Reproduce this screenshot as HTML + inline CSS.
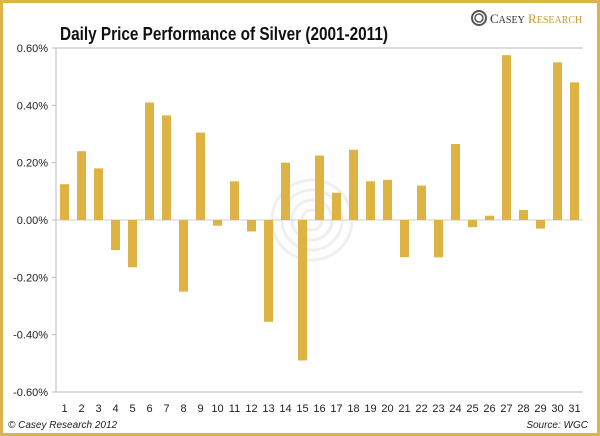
<!DOCTYPE html>
<html><head><meta charset="utf-8"><style>
body{margin:0;width:600px;height:436px;overflow:hidden;background:#fff;font-family:"Liberation Sans",sans-serif}
#frame{position:absolute;left:0;top:0;width:594px;height:430px;border:3px solid #D9B54A;background:#fff}
</style></head><body>
<div id="frame"></div>
<svg id="c" width="600" height="436" style="position:absolute;left:0;top:0">
<text x="60" y="40" font-size="18" font-weight="bold" fill="#111" textLength="328" lengthAdjust="spacingAndGlyphs">Daily Price Performance of Silver (2001-2011)</text>
<g>
<circle cx="479" cy="18" r="7" fill="none" stroke="#555" stroke-width="2"/>
<circle cx="479" cy="18" r="4" fill="none" stroke="#555" stroke-width="1.5"/>
<text x="490" y="23" font-family="Liberation Serif,serif" font-size="13" fill="#333">C<tspan font-size="10">ASEY</tspan> <tspan fill="#C49A2E" font-size="13">R</tspan><tspan fill="#C49A2E" font-size="10">ESEARCH</tspan></text>
</g>
<g fill="none" stroke="#efefef" stroke-width="3">
<circle cx="312" cy="220" r="10"/><circle cx="312" cy="220" r="20"/><circle cx="312" cy="220" r="30"/><circle cx="312" cy="220" r="40"/>
</g>
<text x="8" y="428" font-size="10" font-style="italic" fill="#222">© Casey Research 2012</text>
<text x="588" y="428" font-size="10" font-style="italic" fill="#222" text-anchor="end">Source: WGC</text>
<g id="plot"></g>
</svg>
<script>
const categories=[1,2,3,4,5,6,7,8,9,10,11,12,13,14,15,16,17,18,19,20,21,22,23,24,25,26,27,28,29,30,31];
const values=[0.125,0.24,0.18,-0.105,-0.165,0.41,0.365,-0.25,0.305,-0.02,0.135,-0.04,-0.355,0.2,-0.49,0.225,0.095,0.245,0.135,0.14,-0.13,0.12,-0.13,0.265,-0.025,0.015,0.575,0.035,-0.03,0.55,0.48];
const yTicks=[0.6,0.4,0.2,0,-0.2,-0.4,-0.6];
const yTickLabels=["0.60%","0.40%","0.20%","0.00%","-0.20%","-0.40%","-0.60%"];
const L=56,R=583,T=48,B=392,NS="http://www.w3.org/2000/svg";
const y=v=>T+(0.6-v)/1.2*(B-T);
const step=(R-L)/categories.length;
const x=i=>L+step*(i+0.5);
const g=document.getElementById('plot');
function mk(t,a){const e=document.createElementNS(NS,t);for(const k in a)e.setAttribute(k,a[k]);g.appendChild(e);return e;}
yTicks.forEach((v,i)=>{
  const ln=mk('line',{x1:L-4,x2:(v===0.6||v===-0.6)?R:L,y1:y(v),y2:y(v),stroke:'#bbb','stroke-width':1});
  
  
  const t=mk('text',{x:L-8,y:y(v)+4,'font-size':11,'text-anchor':'end',fill:'#222'});
  t.textContent=yTickLabels[i];
  
  
});
const ax=mk('line',{x1:L,x2:L,y1:T,y2:B,stroke:'#bbb'});


const zl=mk('line',{x1:L,x2:R,y1:y(0),y2:y(0),stroke:'#ccc'});


categories.forEach((c,i)=>{
  const v=values[i],bw=9;
  const r=mk('rect',{x:x(i)-bw/2,y:Math.min(y(v),y(0)),width:bw,height:Math.abs(y(v)-y(0)),fill:'#DDB443'});
  
  
  const t=mk('text',{x:x(i),y:412,'font-size':11,'text-anchor':'middle',fill:'#222'});
  t.textContent=c;
  
  
});
</script>
</body></html>
